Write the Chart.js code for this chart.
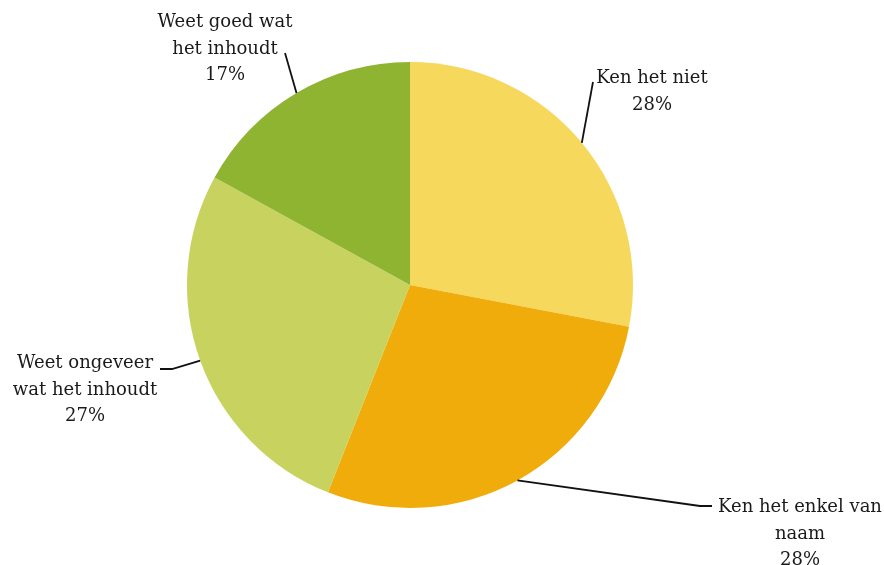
<!DOCTYPE html>
<html>
<head>
<meta charset="utf-8">
<script src="https://cdn.jsdelivr.net/npm/chart.js@4.4.1/dist/chart.umd.min.js"></script>
<style>
  html, body { margin: 0; padding: 0; background: #fff; }
  #wrap { width: 884px; height: 565px; }
</style>
</head>
<body>
<div id="wrap"><canvas id="pieKennis"></canvas></div>
<script>
// Data
const categories = ['Ken het niet', 'Ken het enkel van naam', 'Weet ongeveer wat het inhoudt', 'Weet goed wat het inhoudt'];
const shares = [28, 28, 27, 17];
// how each label is broken over lines
const labelLines = [
  ['Ken het niet'],
  ['Ken het enkel van', 'naam'],
  ['Weet ongeveer', 'wat het inhoudt'],
  ['Weet goed wat', 'het inhoudt']
];
const colors = ['#F5D85C', '#F0AC0A', '#C8D35F', '#8FB432'];

// Label layout: text block centre x, first baseline y, and where the leader line ends
const labelBoxes = [
  { x: 652, y: 83,  end: [593, 82],  elbow: null },
  { x: 800, y: 512, end: [712, 506], elbow: [700, 506] },
  { x: 85,  y: 368, end: [160, 369], elbow: [172, 369] },
  { x: 225, y: 27,  end: [285, 53],  elbow: null }
];

const FONT = '18px "DejaVu Serif"';
const LINE_H = 26.5;

const leaderLabels = {
  id: 'leaderLabels',
  afterDatasetsDraw(chart) {
    const { ctx } = chart;
    const arcs = chart.getDatasetMeta(0).data;
    ctx.save();
    arcs.forEach((arc, i) => {
      const mid = (arc.startAngle + arc.endAngle) / 2;
      const sx = arc.x + Math.cos(mid) * arc.outerRadius;
      const sy = arc.y + Math.sin(mid) * arc.outerRadius;
      const box = labelBoxes[i];
      ctx.strokeStyle = '#111';
      ctx.lineWidth = 1.8;
      ctx.beginPath();
      ctx.moveTo(sx, sy);
      if (box.elbow) ctx.lineTo(box.elbow[0], box.elbow[1]);
      ctx.lineTo(box.end[0], box.end[1]);
      ctx.stroke();

      ctx.fillStyle = '#1a1a1a';
      ctx.font = FONT;
      ctx.textAlign = 'center';
      ctx.textBaseline = 'alphabetic';
      const lines = labelLines[i].concat([shares[i] + '%']);
      lines.forEach((t, k) => ctx.fillText(t, box.x, box.y + k * LINE_H));
    });
    ctx.restore();
  }
};

new Chart(document.getElementById('pieKennis'), {
  type: 'pie',
  data: {
    labels: categories,
    datasets: [{ data: shares, backgroundColor: colors, borderWidth: 0 }]
  },
  options: {
    responsive: true, maintainAspectRatio: false,
    animation: false,
    layout: { padding: { left: 187, right: 251, top: 62, bottom: 57 } },
    plugins: { legend: { display: false }, tooltip: { enabled: false } }
  },
  plugins: [leaderLabels]
});
</script>
</body>
</html>
